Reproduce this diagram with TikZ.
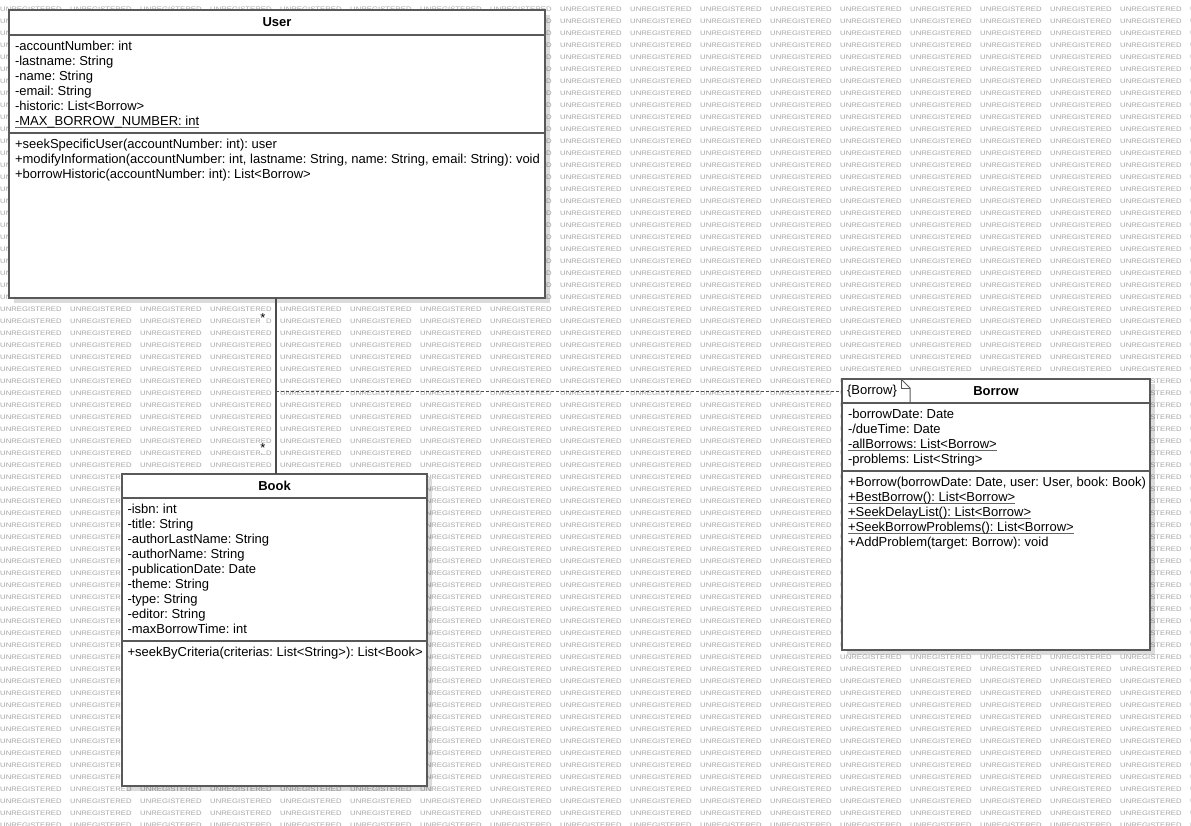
\documentclass[tikz,border=0pt]{standalone}
\usepackage{fontspec}
\setmainfont{Liberation Sans}
\newfontfamily\wmfont[FakeStretch=1.19]{Liberation Sans}
\usetikzlibrary{positioning,shadows}
\frenchspacing
\newsavebox\umbox
\newcommand{\umember}[1]{\sbox\umbox{#1}\rlap{\color{black!60}\rule[-2.5pt]{\wd\umbox}{0.9pt}}\usebox\umbox}
\newcommand{\memberlist}[1]{\begin{tabular}{@{}l@{}}#1\end{tabular}}

\begin{document}
\begin{tikzpicture}[x=1pt, y=-1pt,
  watermark/.style={anchor=base west, inner sep=0, text=black!36, font=\wmfont\fontsize{6.5}{7}\selectfont},
  classbox/.style={draw=black!65, line width=1.3pt, fill=white, anchor=north west, inner sep=0, outer sep=0,
    drop shadow={shadow xshift=5pt, shadow yshift=-5pt, opacity=0.14, fill=black}},
  classname/.style={anchor=north, inner sep=0, outer sep=0, font=\bfseries\fontsize{13}{15}\selectfont},
  members/.style={inner sep=0, outer sep=0, font=\fontsize{13}{15}\selectfont},
  sep/.style={draw=black!65, line width=1.3pt},
  assoc/.style={draw=black!70, line width=1.2pt},
  mult/.style={fill=white, inner sep=0.5pt, font=\fontsize{13}{15}\selectfont}]
  \useasboundingbox (0,0) rectangle (1191,826);

  % background stamp
  \foreach \row in {0,...,68}
    \foreach \col in {0,...,17}
      \node (wm-\col-\row) [watermark] at (70*\col, 11.5+12*\row) {UNREGISTERED};

  % User
  \node (user) [classbox, minimum width=536pt, minimum height=288pt] at (9,10) {};
  \node (user-name) [classname, minimum width=536pt, minimum height=25pt] at (user.north) {User};
  \draw[sep] (user-name.south west) -- (user-name.south east);
  \node (user-attr) [members, below right=5pt and 6pt of user-name.south west] {\memberlist{%
    -accountNumber: int\\
    -lastname: String\\
    -name: String\\
    -email: String\\
    -historic: List<Borrow>\\
    \umember{-MAX\_BORROW\_NUMBER: int}}};
  \coordinate (user-sep) at ([yshift=-3pt]user-attr.south);
  \draw[sep] (user-sep -| user.west) -- (user-sep -| user.east);
  \node (user-ops) [members, below right=8pt and 0pt of user-attr.south west] {\memberlist{%
    +seekSpecificUser(accountNumber: int): user\\
    +modifyInformation(accountNumber: int, lastname: String, name: String, email: String): void\\
    +borrowHistoric(accountNumber: int): List<Borrow>}};

  % Book
  \node (book) [classbox, minimum width=305pt, minimum height=312pt] at (122,474) {};
  \node (book-name) [classname, minimum width=305pt, minimum height=24pt] at (book.north) {Book};
  \draw[sep] (book-name.south west) -- (book-name.south east);
  \node (book-attr) [members, below right=5pt and 5.5pt of book-name.south west] {\memberlist{%
    -isbn: int\\
    -title: String\\
    -authorLastName: String\\
    -authorName: String\\
    -publicationDate: Date\\
    -theme: String\\
    -type: String\\
    -editor: String\\
    -maxBorrowTime: int}};
  \coordinate (book-sep) at ([yshift=-3pt]book-attr.south);
  \draw[sep] (book-sep -| book.west) -- (book-sep -| book.east);
  \node (book-ops) [members, below right=8pt and 0pt of book-attr.south west] {\memberlist{%
    +seekByCriteria(criterias: List<String>): List<Book>}};

  % Borrow
  \node (borrow) [classbox, minimum width=308pt, minimum height=271pt] at (842,379) {};
  \node (borrow-name) [classname, minimum width=308pt, minimum height=24pt] at (borrow.north) {Borrow};
  \draw[sep] (borrow-name.south west) -- (borrow-name.south east);
  \node (borrow-tag) [members, right=5pt of borrow-name.west] {\{Borrow\}};
  \draw[sep, line width=1pt] (borrow.north west) ++(59,0) -- ++(9,9) -- ++(0,15);
  \draw[sep, line width=1pt] (borrow.north west) ++(59,0) -- ++(0,9) -- ++(9,0);
  \node (borrow-attr) [members, below right=5pt and 6pt of borrow-name.south west] {\memberlist{%
    -borrowDate: Date\\
    -/dueTime: Date\\
    \umember{-allBorrows: List<Borrow>}\\
    -problems: List<String>}};
  \coordinate (borrow-sep) at ([yshift=-3pt]borrow-attr.south);
  \draw[sep] (borrow-sep -| borrow.west) -- (borrow-sep -| borrow.east);
  \node (borrow-ops) [members, below right=8pt and 0pt of borrow-attr.south west] {\memberlist{%
    +Borrow(borrowDate: Date, user: User, book: Book)\\
    \umember{+BestBorrow(): List<Borrow>}\\
    \umember{+SeekDelayList(): List<Borrow>}\\
    \umember{+SeekBorrowProblems(): List<Borrow>}\\
    +AddProblem(target: Borrow): void}};

  % associations
  \coordinate (join) at (276,391);
  \draw[assoc] (user.south -| join) -- (book.north -| join);
  \draw[assoc, line width=1pt, dash pattern=on 3pt off 2pt] (join) -- (borrow.west |- join);
  \node (user-mult) [mult] at (263,318) {*};
  \node (book-mult) [mult] at (263,448) {*};
\end{tikzpicture}
\end{document}
